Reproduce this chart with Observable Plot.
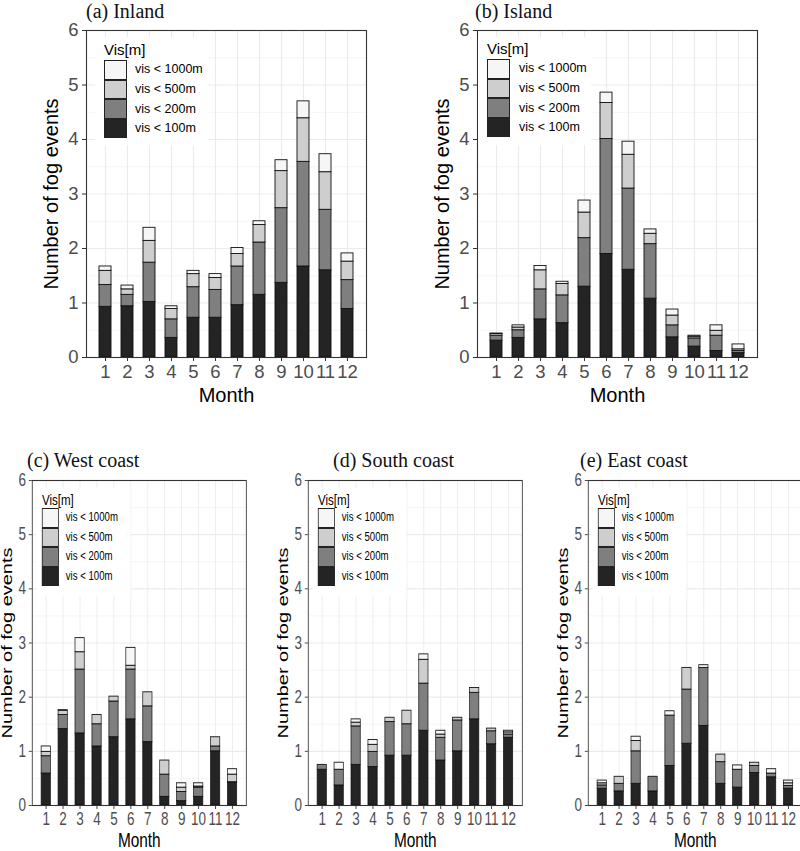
<!DOCTYPE html>
<html><head><meta charset="utf-8">
<script src="https://cdn.jsdelivr.net/npm/d3@7"></script>
<script src="https://cdn.jsdelivr.net/npm/@observablehq/plot@0.6"></script>
<style>
body{margin:0;background:#fff;width:800px;height:851px;overflow:hidden;position:relative;font-family:"Liberation Sans",Arial,sans-serif}
.title{position:absolute;font-family:"Liberation Serif",serif;font-size:20px;color:#111;white-space:nowrap;line-height:1}
.panel{position:absolute}
.panel.narrow{transform:scaleX(0.77);transform-origin:0 0}
.panel svg{position:absolute;left:0;top:0}
.legend{position:absolute;background:#fff}
.lg-title{position:absolute;font-size:15px;color:#000;line-height:1;white-space:nowrap}
.lg-key{position:absolute;box-sizing:border-box;border:1.2px solid #222}
.lg-label{position:absolute;font-size:12.5px;color:#000;line-height:1;white-space:nowrap}
.panel svg [aria-label$="tick label"]{fill:#4d4d4d;font-size:18.5px}
.panel.narrow svg [aria-label$="tick label"]{font-size:17.5px}
svg [aria-label="y-axis label"], svg [aria-label="x-axis label"]{font-size:20px;fill:#000}
</style></head><body>
<script>
const months = [1,2,3,4,5,6,7,8,9,10,11,12];
const classes = ["vis < 100m","vis < 200m","vis < 500m","vis < 1000m"];
const fills = ["#242424","#7f7f7f","#cecece","#f6f6f6"];
const yTicks = [0,1,2,3,4,5,6];
const yMinor = [0.5,1.5,2.5,3.5,4.5,5.5];

// cumulative counts (fog events with visibility below each threshold)
const inland_lt100  = [0.93,0.94,1.02,0.36,0.73,0.73,0.96,1.15,1.37,1.67,1.60,0.89];
const inland_lt200  = [1.33,1.15,1.74,0.70,1.29,1.24,1.67,2.11,2.74,3.59,2.71,1.42];
const inland_lt500  = [1.59,1.25,2.14,0.89,1.53,1.46,1.90,2.43,3.42,4.39,3.40,1.76];
const inland_lt1000 = [1.67,1.32,2.38,0.94,1.59,1.53,2.01,2.50,3.62,4.70,3.73,1.91];

const island_lt100  = [0.31,0.36,0.70,0.63,1.30,1.90,1.61,1.08,0.37,0.20,0.12,0.08];
const island_lt200  = [0.40,0.50,1.25,1.14,2.19,4.01,3.10,2.08,0.59,0.35,0.40,0.12];
const island_lt500  = [0.43,0.55,1.60,1.35,2.66,4.67,3.72,2.27,0.77,0.38,0.49,0.15];
const island_lt1000 = [0.44,0.59,1.68,1.39,2.88,4.86,3.96,2.35,0.88,0.40,0.59,0.24];

const west_lt100  = [0.59,1.41,1.33,1.09,1.26,1.59,1.17,0.16,0.08,0.16,1.00,0.42];
const west_lt200  = [0.91,1.67,2.51,1.50,1.92,2.51,1.83,0.57,0.25,0.33,1.09,0.43];
const west_lt500  = [0.99,1.75,2.83,1.67,2.01,2.58,2.09,0.83,0.33,0.35,1.26,0.57];
const west_lt1000 = [1.09,1.76,3.09,1.67,2.01,2.91,2.09,0.83,0.41,0.41,1.26,0.67];

const south_lt100  = [0.66,0.37,0.75,0.71,0.92,0.92,1.38,0.83,1.00,1.59,1.13,1.25];
const south_lt200  = [0.75,0.66,1.46,0.99,1.54,1.50,2.25,1.25,1.57,2.08,1.37,1.31];
const south_lt500  = [0.75,0.66,1.53,1.12,1.62,1.75,2.69,1.31,1.62,2.17,1.42,1.35];
const south_lt1000 = [0.75,0.79,1.59,1.21,1.62,1.75,2.79,1.38,1.62,2.17,1.42,1.38];

const east_lt100  = [0.31,0.26,0.40,0.26,0.73,1.14,1.47,0.40,0.33,0.60,0.52,0.31];
const east_lt200  = [0.37,0.40,1.00,0.53,1.66,2.14,2.54,0.80,0.66,0.73,0.59,0.36];
const east_lt500  = [0.41,0.53,1.19,0.53,1.66,2.54,2.54,0.94,0.66,0.79,0.59,0.41];
const east_lt1000 = [0.46,0.53,1.27,0.53,1.74,2.54,2.59,0.94,0.74,0.79,0.67,0.46];

const titles = ["(a) Inland","(b) Island","(c) West coast","(d) South coast","(e) East coast"];

function buildRows(series){
  const rows = [];
  months.forEach((m,i)=>{
    let prev = 0;
    series.forEach((arr,k)=>{
      const v = arr[i];
      if (v > prev) rows.push({month:m, cls:classes[k], y1:prev, y2:v});
      prev = Math.max(prev, v);
    });
  });
  return rows;
}

function addTitle(text, left, top){
  const d = document.createElement("div");
  d.className = "title"; d.textContent = text;
  d.style.left = left+"px"; d.style.top = top+"px";
  document.body.appendChild(d);
}

function makePanel(o){
  const c = document.createElement("div");
  c.className = "panel" + (o.narrow ? " narrow" : "");
  c.style.left = o.left+"px"; c.style.top = o.top+"px";
  c.style.width = o.width+"px"; c.style.height = o.height+"px";
  const chart = Plot.plot({
    width:o.width, height:o.height,
    marginLeft:o.ml, marginRight:o.mr, marginTop:o.mt, marginBottom:o.mb,
    style:{fontFamily:'"Liberation Sans",Arial,sans-serif', background:"transparent", overflow:"visible"},
    x:{type:"band", domain:months, paddingInner:0.47, paddingOuter:0.335},
    y:{domain:[0,6]},
    color:{domain:classes, range:fills},
    marks:[
      Plot.gridY(yMinor,{stroke:"#ebebeb", strokeOpacity:1, strokeWidth:0.55}),
      Plot.gridY(yTicks,{stroke:"#ebebeb", strokeOpacity:1, strokeWidth:1.1}),
      Plot.gridX(months,{stroke:"#ebebeb", strokeOpacity:1, strokeWidth:1.1}),
      Plot.barY(buildRows(o.series),{x:"month", y1:"y1", y2:"y2", fill:"cls", stroke:"#111", strokeWidth:0.9}),
      Plot.frame({stroke:"#333", strokeWidth:1.1}),
      Plot.axisY(yTicks,{tickSize:4, tickPadding:4, stroke:"#333", tickFormat:d3.format("d"),
        label:"Number of fog events", labelAnchor:"center", labelOffset:o.yLabelOffset, labelArrow:"none"}),
      Plot.axisX(months,{tickSize:4, tickPadding:3, stroke:"#333",
        label:"Month", labelAnchor:"center", labelOffset:o.xLabelOffset, labelArrow:"none"})
    ]
  });
  c.appendChild(chart);
  const L = o.legend;
  const box = document.createElement("div");
  box.className = "legend";
  Object.assign(box.style,{left:L.bx+"px", top:L.by+"px", width:L.bw+"px", height:L.bh+"px"});
  c.appendChild(box);
  const t = document.createElement("div");
  t.className = "lg-title"; t.textContent = "Vis[m]";
  Object.assign(t.style,{left:L.tx+"px", top:L.ty+"px"});
  c.appendChild(t);
  const order = [3,2,1,0];
  order.forEach((k,i)=>{
    const key = document.createElement("div");
    key.className = "lg-key";
    Object.assign(key.style,{left:L.kx+"px", top:(L.ky+i*L.kh)+"px", width:L.kw+"px", height:L.kh+"px", background:fills[k]});
    c.appendChild(key);
    const lab = document.createElement("div");
    lab.className = "lg-label"; lab.textContent = classes[k];
    Object.assign(lab.style,{left:L.lx+"px", top:(L.ky+i*L.kh+L.kh/2-6.5)+"px"});
    c.appendChild(lab);
  });
  document.body.appendChild(c);
}

// top row
addTitle(titles[0], 86, 1);
addTitle(titles[1], 475, 1);
makePanel({series:[inland_lt100,inland_lt200,inland_lt500,inland_lt1000],
  left:0, top:26, width:400, height:385, ml:86, mr:34, mt:4, mb:54,
  yLabelOffset:43, xLabelOffset:44,
  legend:{bx:95,by:11,bw:113,bh:108,tx:104,ty:16,kx:104,ky:34,kw:23,kh:19.6,lx:135}});
makePanel({series:[island_lt100,island_lt200,island_lt500,island_lt1000],
  left:400, top:26, width:400, height:385, ml:77, mr:43, mt:4, mb:54,
  yLabelOffset:43, xLabelOffset:44,
  legend:{bx:78,by:11,bw:113,bh:108,tx:87,ty:15,kx:87,ky:33,kw:23,kh:19.6,lx:119}});

// bottom row (horizontally condensed)
addTitle(titles[2], 27, 450);
addTitle(titles[3], 333, 450);
addTitle(titles[4], 580, 450);
const bottomLegend = {bx:50,by:12,bw:122,bh:108,tx:57,ty:16,kx:57,ky:32,kw:22,kh:19.5,lx:88};
makePanel({series:[west_lt100,west_lt200,west_lt500,west_lt1000], narrow:true,
  left:-1.9, top:476, width:328, height:375, ml:44, mr:6, mt:4, mb:46,
  yLabelOffset:40, xLabelOffset:41, legend:bottomLegend});
makePanel({series:[south_lt100,south_lt200,south_lt500,south_lt1000], narrow:true,
  left:274.1, top:476, width:328, height:375, ml:44, mr:6, mt:4, mb:46,
  yLabelOffset:40, xLabelOffset:41, legend:bottomLegend});
makePanel({series:[east_lt100,east_lt200,east_lt500,east_lt1000], narrow:true,
  left:554.1, top:476, width:324, height:375, ml:44, mr:2, mt:4, mb:46,
  yLabelOffset:40, xLabelOffset:41, legend:bottomLegend});
</script>
</body></html>
